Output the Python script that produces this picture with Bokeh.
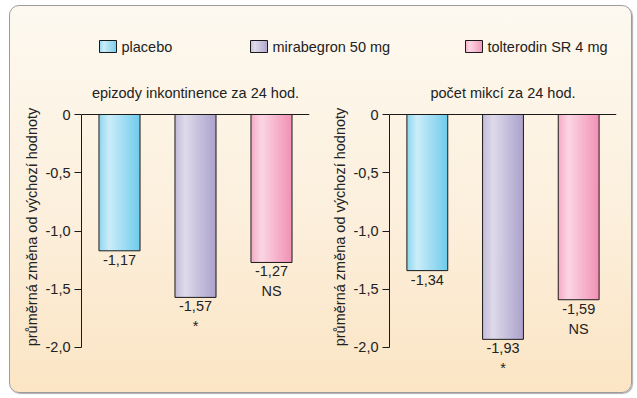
from bokeh.plotting import figure
from bokeh.models import Range1d, Span, ColumnDataSource, FixedTicker, CustomJSTickFormatter
from bokeh.layouts import column, row
from bokeh.core.properties import value
from bokeh.embed import file_html
from bokeh.resources import INLINE

# ---------------- data ----------------
series = ["placebo", "mirabegron 50 mg", "tolterodin SR 4 mg"]
panel_titles = ["epizody inkontinence za 24 hod.", "počet mikcí za 24 hod."]
incontinence = [-1.17, -1.57, -1.27]
micturitions = [-1.34, -1.93, -1.59]
notes_incontinence = ["", "*", "NS"]
notes_micturitions = ["", "*", "NS"]
y_ticks = [0, -0.5, -1.0, -1.5, -2.0]
y_label = "průměrná změna od výchozí hodnoty"

# ---------------- style ----------------
FONT = "Liberation Sans"
FS = "14.5px"
TXT = "#222222"
# gradient stops per series: (left edge, highlight, right edge)
grad = [
    ("#8dd5ef", "#cbedf9", "#6fcbeb"),
    ("#c2bbd9", "#dedaea", "#aca2cc"),
    ("#f4a9c6", "#fbd6e3", "#f190b4"),
]
BAR_W = 0.54
N_STRIPES = 28
Y_MIN, Y_MAX = -2.2661, 0.3348


def hex2rgb(h):
    h = h.lstrip("#")
    return tuple(int(h[i:i + 2], 16) for i in (0, 2, 4))


def rgb2hex(c):
    return "#%02x%02x%02x" % tuple(int(round(v)) for v in c)


def grad_color(stops, t):
    a, b, c = (hex2rgb(s) for s in stops)
    if t < 0.25:
        u = t / 0.25
        return rgb2hex([a[i] + (b[i] - a[i]) * u for i in range(3)])
    u = (t - 0.25) / 0.75
    return rgb2hex([b[i] + (c[i] - b[i]) * u for i in range(3)])


def gradient_quads(p, xc, width, top, bottom, stops):
    l, r, t, b, col = [], [], [], [], []
    for i, x in enumerate(xc):
        x0 = x - width / 2
        dx = width / N_STRIPES
        for k in range(N_STRIPES):
            l.append(x0 + k * dx)
            r.append(min(x0 + (k + 1.6) * dx, x0 + width))
            t.append(top[i])
            b.append(bottom[i])
            col.append(grad_color(stops[i], (k + 0.5) / N_STRIPES))
    src = ColumnDataSource(dict(left=l, right=r, top=t, bottom=b, color=col))
    p.quad(left="left", right="right", top="top", bottom="bottom", source=src,
           fill_color="color", line_color=None)
    p.quad(left=[x - width / 2 for x in xc], right=[x + width / 2 for x in xc],
           top=top, bottom=bottom, fill_color=None, line_color="#1a1a1a", line_width=1)


def fmt(v):
    return ("%.2f" % v).replace(".", ",")


def make_chart(title, vals, notes, width, border_left, border_right):
    p = figure(width=width, height=322, x_range=Range1d(-0.5, 2.5),
               y_range=Range1d(Y_MIN, Y_MAX), output_backend="svg",
               toolbar_location=None, x_axis_location=None,
               min_border_left=border_left, min_border_right=border_right,
               min_border_top=5, min_border_bottom=14)
    p.background_fill_alpha = 0
    p.border_fill_alpha = 0
    p.outline_line_color = None
    p.xgrid.visible = False
    p.ygrid.visible = False

    ax = p.yaxis[0]
    ax.bounds = (-2.0, 0.0)
    ax.ticker = FixedTicker(ticks=y_ticks)
    ax.formatter = CustomJSTickFormatter(
        code="return tick == 0 ? '0' : tick.toFixed(1).replace('.', ',');")
    ax.major_tick_out = 7
    ax.major_tick_in = 0
    ax.minor_tick_out = 0
    ax.minor_tick_in = 0
    ax.axis_line_color = "#1a1a1a"
    ax.major_tick_line_color = "#1a1a1a"
    ax.major_label_text_font = FONT
    ax.major_label_text_font_size = FS
    ax.major_label_text_color = TXT
    ax.major_label_standoff = 4
    ax.axis_label = y_label
    ax.axis_label_text_font = FONT
    ax.axis_label_text_font_size = FS
    ax.axis_label_text_font_style = "normal"
    ax.axis_label_text_color = TXT
    ax.axis_label_standoff = 3

    xs = list(range(len(vals)))
    gradient_quads(p, xs, BAR_W, [0] * len(vals), vals, grad)
    p.add_layout(Span(location=0, dimension="width", line_color="#1a1a1a", line_width=1))

    p.text(x=xs, y=vals, text=[fmt(v) for v in vals], text_align="center",
           text_baseline="top", y_offset=4, text_font=value(FONT),
           text_font_size=FS, text_color=TXT)
    p.text(x=xs, y=vals, text=notes, text_align="center",
           text_baseline="top", y_offset=21, text_font=value(FONT),
           text_font_size=FS, text_color=TXT)
    p.text(x=[1], y=[0], text=[title], text_align="center", text_baseline="middle",
           y_offset=-22, text_font=value(FONT), text_font_size=FS, text_color=TXT)
    return p


# ---------------- legend ----------------
LEG_W, LEG_H = 621, 64
leg = figure(width=LEG_W, height=LEG_H, x_range=Range1d(0, LEG_W), y_range=Range1d(LEG_H, 0),
             output_backend="svg", toolbar_location=None,
             x_axis_location=None, y_axis_location=None,
             min_border=0)
leg.background_fill_alpha = 0
leg.border_fill_alpha = 0
leg.outline_line_color = None
leg.xgrid.visible = False
leg.ygrid.visible = False
swatch_left = [89, 240, 455]   # layout positions (px)
SW_W, SW_H, SW_Y = 17, 12, 40
gradient_quads(leg, [x + SW_W / 2 for x in swatch_left], SW_W,
               [SW_Y - SW_H / 2] * 3, [SW_Y + SW_H / 2] * 3, grad)
leg.text(x=[x + SW_W + 5 for x in swatch_left], y=[SW_Y] * 3, text=series,
         text_align="left", text_baseline="middle", text_font=value(FONT),
         text_font_size=FS, text_color=TXT)

left = make_chart(panel_titles[0], incontinence, notes_incontinence, 310, 71, 11)
right = make_chart(panel_titles[1], micturitions, notes_micturitions, 311, 69, 15)

layout = column(
    leg, row(left, right, spacing=0), spacing=0,
    styles={
        "background": "linear-gradient(to bottom, #fdf9f0 0%, #fcefdc 55%, #fbe5c4 100%)",
        "border": "1px solid #9c9c9c",
        "border-radius": "10px",
        "box-shadow": "1px 1px 1px #b0b0b0",
        "margin-top": "5px",
        "margin-left": "9px",
    },
)

open("out.html", "w").write(file_html(layout, INLINE))
